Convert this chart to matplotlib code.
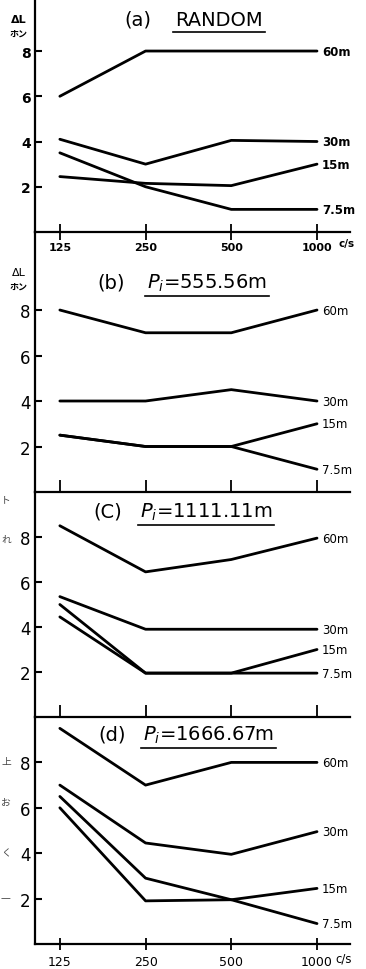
import matplotlib.pyplot as plt
import matplotlib.lines as mlines
import numpy as np

plt.rcParams['font.family'] = ['DejaVu Sans', 'Noto Sans CJK JP']

# data (rows: 60m, 30m, 15m, 7.5m)
freqs = ['125', '250', '500', '1000']
series_labels = ['60m', '30m', '15m', '7.5m']

panel_a = [[6.0, 8.0, 8.0, 8.0],
           [4.1, 3.0, 4.05, 4.0],
           [2.45, 2.15, 2.05, 3.0],
           [3.5, 2.0, 1.0, 1.0]]
panel_b = [[8.0, 7.0, 7.0, 8.0],
           [4.0, 4.0, 4.5, 4.0],
           [2.5, 2.0, 2.0, 3.0],
           [2.5, 2.0, 2.0, 1.0]]
panel_c = [[8.5, 6.45, 7.0, 7.95],
           [5.35, 3.9, 3.9, 3.9],
           [5.0, 1.95, 1.95, 3.0],
           [4.45, 1.95, 1.95, 1.95]]
panel_d = [[9.5, 7.0, 8.0, 8.0],
           [7.0, 4.45, 3.95, 4.95],
           [6.0, 1.9, 1.95, 2.45],
           [6.5, 2.9, 1.95, 0.9]]

prefixes = ['(a)', '(b)', '(C)', '(d)']
titles = ['RANDOM', '$P_i$=555.56m', '$P_i$=1111.11m', '$P_i$=1666.67m']

W, H = 366, 970
fig = plt.figure(figsize=(W / 100, H / 100), dpi=100)

# panel extents in pixels (top, bottom) and y-limit tops
extents = [(0, 233), (233, 493), (493, 718), (718, 945)]
ytops = [10.3, 11.43, 10.0, 10.0]
left_px, right_px = 35, 350

# title positions in pixels: prefix center x, main left x, y
title_pos = [(138, 175, 20), (111, 147, 283), (108, 140, 512), (112, 143, 735)]

data_panels = [panel_a, panel_b, panel_c, panel_d]
x = np.arange(len(freqs))
axes = []
for i, (vals, (top, bot), ytop) in enumerate(zip(data_panels, extents, ytops)):
    ax = fig.add_axes([left_px / W, 1 - bot / H, (right_px - left_px) / W, (bot - top) / H])
    ax.set_facecolor('none')
    axes.append(ax)
    bold = 'bold' if i == 0 else 'normal'
    for row, lab in zip(vals, series_labels):
        ax.plot(x, row, color='black', lw=2.0, solid_capstyle='round')
        ax.text(3.06, row[-1], lab, ha='left', va='center', fontsize=8.5,
                clip_on=False, fontweight=bold)
    ax.set_xlim(-0.29, 3.385)
    ax.set_ylim(0, ytop)
    ax.set_yticks([2, 4, 6, 8])
    ax.set_yticklabels(['2', '4', '6', '8'], fontweight=bold,
                       fontsize=10 if i == 0 else 12)
    ax.set_xticks(x)
    for s in ['top', 'right']:
        ax.spines[s].set_visible(False)
    for s in ['left', 'bottom']:
        ax.spines[s].set_linewidth(1.6)
    ax.tick_params(axis='y', direction='in', length=5, width=1.5, pad=3)
    if i == 0:
        ax.tick_params(axis='x', direction='inout', length=12, width=1.3, pad=1)
        ax.set_xticklabels(freqs, fontsize=8, fontweight='bold')
    elif i == 3:
        ax.tick_params(axis='x', direction='inout', length=8, width=1.3, pad=4)
        ax.set_xticklabels(freqs, fontsize=9)
    else:
        ax.tick_params(axis='x', direction='in', length=9, width=1.3, labelbottom=False)

# unit labels at the end of x axes
axes[0].annotate('c/s', xy=(3.25, 0), xycoords='data', xytext=(0, -8),
                 textcoords='offset points', ha='left', va='center',
                 fontsize=7.5, fontweight='bold', annotation_clip=False)
axes[3].annotate('c/s', xy=(3.22, 0), xycoords='data', xytext=(0, -10),
                 textcoords='offset points', ha='left', va='center',
                 fontsize=8.5, annotation_clip=False)

# y-axis quantity labels
for (ly, fw) in [(20, 'bold'), (273, 'normal')]:
    fig.text(19 / W, 1 - ly / H, 'ΔL', ha='center', va='center', fontsize=8,
             fontweight=fw, family=['DejaVu Sans', 'Noto Sans CJK JP'])
    fig.text(19 / W, 1 - (ly + 14) / H, 'ホン', ha='center', va='center', fontsize=6.5,
             fontweight='bold', family=['Noto Sans CJK JP', 'DejaVu Sans'])

# titles with underlined main part
main_texts = []
for pre, ttl, (cx, mx, ty) in zip(prefixes, titles, title_pos):
    fig.text(cx / W, 1 - ty / H, pre, ha='center', va='center', fontsize=14)
    t = fig.text(mx / W, 1 - ty / H, ttl, ha='left', va='center', fontsize=14)
    main_texts.append(t)

fig.canvas.draw()
r = fig.canvas.get_renderer()
for t in main_texts:
    bb = t.get_window_extent(r)
    yl = (bb.y0 - 3) / H
    fig.add_artist(mlines.Line2D([(bb.x0 - 2) / W, (bb.x1 + 2) / W], [yl, yl],
                                 transform=fig.transFigure, color='black', lw=1.2))

# characters from the neighbouring page column at the left margin
for ch, py in [('ト', 500), ('れ', 540), ('上', 762), ('お', 803), ('く', 853), ('一', 898)]:
    fig.text(1 / W, 1 - py / H, ch, ha='left', va='center', fontsize=7, color='#444444',
             family=['Noto Sans CJK JP', 'DejaVu Sans'])

fig.savefig('out.png', dpi=100)
